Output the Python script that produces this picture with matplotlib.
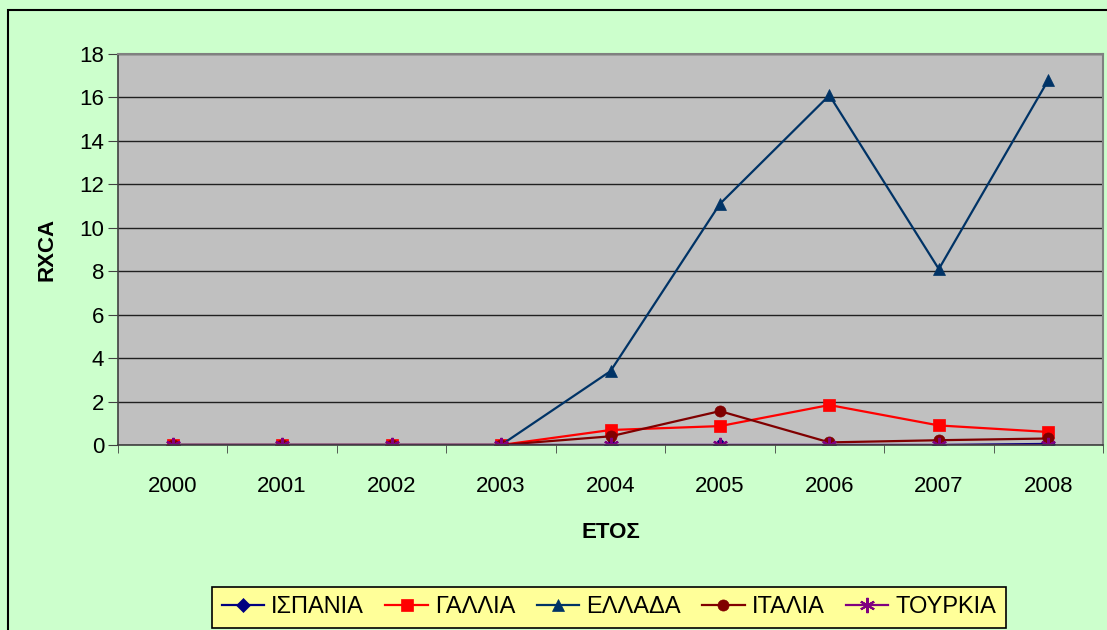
import matplotlib.pyplot as plt
from matplotlib.patches import Rectangle

plt.rcParams['font.family'] = ['Liberation Sans', 'DejaVu Sans']

years = ['2000', '2001', '2002', '2003', '2004', '2005', '2006', '2007', '2008']
spain = [0, 0, 0, 0, 0, 0, 0, 0, 0.05]
france = [0, 0, 0, 0, 0.69, 0.87, 1.84, 0.9, 0.6]
greece = [0, 0, 0, 0, 3.4, 11.1, 16.1, 8.1, 16.8]
italy = [0, 0, 0, 0, 0.4, 1.56, 0.12, 0.22, 0.3]
turkey = [0, 0, 0, 0, 0, 0, 0, 0, 0]

names = ['ΙΣΠΑΝΙΑ', 'ΓΑΛΛΙΑ', 'ΕΛΛΑΔΑ', 'ΙΤΑΛΙΑ', 'ΤΟΥΡΚΙΑ']
series = [spain, france, greece, italy, turkey]
colors = ['#000080', '#FF0000', '#003366', '#800000', '#800080']
markers = ['D', 's', '^', 'o', (6, 2, 0)]
msizes = [7, 8, 9, 8, 11]

fig = plt.figure(figsize=(11.07, 6.30), dpi=100, facecolor='#CCFFCC')
fig.patches.append(Rectangle((8 / 1107, -0.1), 1.2, 0.1 + (630 - 10) / 630,
                             transform=fig.transFigure, fill=False,
                             edgecolor='black', linewidth=1.5))
ax = fig.add_axes([118 / 1107, (630 - 445) / 630, 985 / 1107, 391 / 630])
ax.set_facecolor('#C0C0C0')

x = list(range(len(years)))
for vals, name, c, m, ms in zip(series, names, colors, markers, msizes):
    ax.plot(x, vals, color=c, marker=m, markersize=ms, linewidth=1.6,
            markeredgewidth=1.5 if m == markers[4] else 0.5,
            markeredgecolor=c, label=name)

ax.set_xlim(-0.5, len(years) - 0.5)
ax.set_ylim(0, 18)
ax.set_yticks(range(0, 19, 2))
ax.set_xticks(x)
ax.set_xticklabels(years)
ax.set_xticks([i - 0.5 for i in range(len(years) + 1)], minor=True)
ax.tick_params(axis='x', which='major', length=0, pad=22, labelsize=16)
ax.tick_params(axis='x', which='minor', length=6, direction='out', color='#404040')
ax.tick_params(axis='y', length=7, direction='out', color='#404040', labelsize=16, pad=3)
ax.yaxis.grid(True, color='#202020', linewidth=1)
ax.set_axisbelow(True)
for s in ['top', 'right']:
    ax.spines[s].set_color('#808080')
    ax.spines[s].set_linewidth(1.5)
for s in ['left', 'bottom']:
    ax.spines[s].set_color('#404040')
    ax.spines[s].set_linewidth(1.2)

ax.set_ylabel('RXCA', fontsize=16, fontweight='bold', labelpad=16)
ax.set_xlabel('ΕΤΟΣ', fontsize=16, fontweight='bold', labelpad=18)

leg = fig.legend(loc='upper center', bbox_to_anchor=(609 / 1107, (630 - 587) / 630),
                 ncol=5, fontsize=17, frameon=True, fancybox=False,
                 facecolor='#FFFF99', edgecolor='black', framealpha=1,
                 handlelength=1.8, handletextpad=0.3, columnspacing=0.9,
                 borderpad=0.4, borderaxespad=0)
leg.get_frame().set_linewidth(1.2)

fig.savefig('out.png', dpi=100, facecolor=fig.get_facecolor())
